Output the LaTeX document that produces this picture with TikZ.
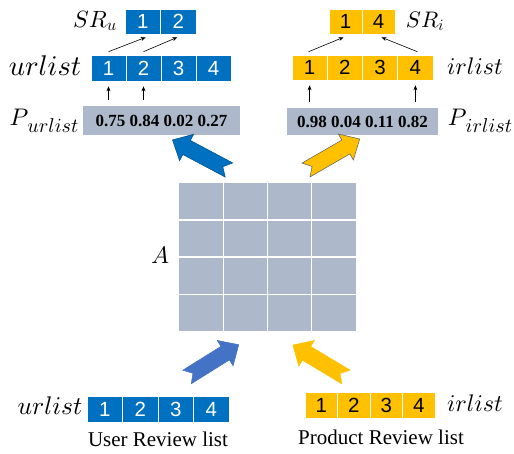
\documentclass[tikz,border=0pt]{standalone}
\usepackage{fontspec}
\setmainfont{Liberation Serif}
\setsansfont{Liberation Sans}
\DeclareFontFamily{OML}{cmm}{\skewchar\font127}
\DeclareFontShape{OML}{cmm}{m}{it}{<-> cmmi10}{}
\usetikzlibrary{arrows.meta,calc}
\definecolor{ublue}{HTML}{0070C0}
\definecolor{ublueb}{HTML}{4472C4}
\definecolor{uyel}{HTML}{FFC000}
\definecolor{gblue}{HTML}{ADB9CA}
\tikzset{
  cellbase/.style={draw=white, line width=0.6pt, inner sep=0pt, minimum height=26pt,
    font=\sffamily\fontsize{20.5}{21}\selectfont},
  bcell/.style={cellbase, fill=ublue, text=white, minimum width=35pt},
  ycell/.style={cellbase, fill=uyel, text=black, minimum width=35pt},
  pbox/.style={fill=gblue, inner sep=0pt, font=\bfseries\fontsize{17}{18}\selectfont},
  mlabel/.style={inner sep=0pt},
  thinarrow/.style={-{Stealth[length=5pt,width=4pt]}, line width=0.6pt, black},
}
\newcommand\blockarrow[4]{%
  \begin{scope}[shift={#2}, rotate=#3, x=1pt, y=1pt]
    \filldraw[#1] (0,8) -- (#4-16,8) -- (#4-16,15) -- (#4,0) -- (#4-16,-15) -- (#4-16,-8) -- (0,-8) -- (7,0) -- cycle;
  \end{scope}}
\newcommand\plabel[1]{{\fontsize{24}{28}\selectfont$P$}\kern-1pt\raisebox{-7pt}{\fontsize{20}{24}\selectfont$#1$}}
\begin{document}
\begin{tikzpicture}[x=1pt, y=-1pt]
\useasboundingbox (0,0) rectangle (514,453);
% ---------- top left ----------
\node[bcell, minimum width=35.5pt, minimum height=25pt] (su1) at (142.75,21.5) {1};
\node[bcell, minimum width=35.5pt, minimum height=25pt] (su2) at (178.25,21.5) {2};
\node[mlabel, font=\fontsize{23.5}{26}\selectfont] (sru) at (95,21) {$SR_u$};
\foreach \i/\x in {1/108.5,2/143.5,3/178.5,4/213.5}
  \node[bcell] (u\i) at (\x,68) {\i};
\node[mlabel, font=\fontsize{28.5}{32}\selectfont] (ul) at (45,66) {$urlist$};
\node[pbox, minimum width=157pt, minimum height=29pt] (pu) at (161.5,120.5) {0.75 0.84 0.02 0.27};
\node[mlabel] (pul) at (44,121) {\plabel{urlist}};
\draw[thinarrow] ([yshift=3pt]u1.north) -- ([yshift=-3pt,xshift=3pt]su1.south);
\draw[thinarrow] ([yshift=3pt]u2.north) -- ([yshift=-3pt,xshift=-1pt]su2.south);
\draw[thinarrow] ([yshift=6pt]pu.north -| u1) -- ([yshift=-5pt]u1.south);
\draw[thinarrow] ([yshift=6pt]pu.north -| u2) -- ([yshift=-5pt]u2.south);
% ---------- top right ----------
\node[ycell, minimum width=33pt, minimum height=25pt] (si1) at (345.5,21.5) {1};
\node[ycell, minimum width=33pt, minimum height=25pt] (si2) at (378.5,21.5) {4};
\node[mlabel, font=\fontsize{22.5}{26}\selectfont] (sri) at (425,21) {$SR_i$};
\foreach \i/\x in {1/309.6,2/344.9,3/380.1,4/415.4}
  \node[ycell, minimum width=35.25pt, minimum height=25pt] (i\i) at (\x,67.5) {\i};
\node[mlabel, font=\fontsize{24}{28}\selectfont] (il) at (475,66) {$irlist$};
\node[pbox, minimum width=151pt, minimum height=27pt] (pi) at (362.5,121.5) {0.98 0.04 0.11 0.82};
\node[mlabel] (pil) at (480,121) {\plabel{irlist}};
\draw[thinarrow] ([yshift=3pt,xshift=-1pt]i1.north) -- ([yshift=-3pt,xshift=-2pt]si1.south);
\draw[thinarrow] ([yshift=3pt,xshift=2pt]i4.north) -- ([yshift=-3pt,xshift=3pt]si2.south);
\draw[thinarrow] ([yshift=6pt]pi.north -| i1) -- ([yshift=-5pt]i1.south);
\draw[thinarrow] ([yshift=6pt]pi.north -| i4) -- ([yshift=-5pt]i4.south);
% ---------- matrix A ----------
\node[fill=gblue, minimum width=177pt, minimum height=148pt, inner sep=0pt] (A) at (267.5,257) {};
\foreach \f in {0.25,0.5,0.75} {
  \draw[white, line width=1.2pt] ($(A.north west)!\f!(A.north east)$) -- ($(A.south west)!\f!(A.south east)$);
  \draw[white, line width=1.2pt] ($(A.north west)!\f!(A.south west)$) -- ($(A.north east)!\f!(A.south east)$);
}
\node[mlabel, font=\fontsize{24}{26}\selectfont] (Al) at (160,255) {$A$};
% ---------- block arrows ----------
\blockarrow{fill=ublue, draw=ublue!70!black, line width=0.5pt}{(229,170)}{152}{64}
\blockarrow{fill=uyel, draw=gblue!50!black, line width=0.5pt}{(306,170)}{30}{62}
\blockarrow{fill=ublueb, draw=ublueb, line width=0.5pt}{(187,377)}{32}{61}
\blockarrow{fill=uyel, draw=uyel, line width=0.5pt}{(346,377)}{149}{62}
% ---------- bottom ----------
\foreach \i/\x in {1/104.75,2/140.25,3/175.75,4/211.25}
  \node[bcell, minimum width=35.5pt] (bu\i) at (\x,409) {\i};
\node[mlabel, font=\fontsize{25.5}{30}\selectfont] (bul) at (50,406) {$urlist$};
\node[font=\fontsize{21}{22}\selectfont, inner sep=0pt] (url) at (158,439) {User Review list};
\foreach \i/\x in {1/321.25,2/353.75,3/386.25,4/418.75}
  \node[ycell, minimum width=32.5pt] (bi\i) at (\x,405) {\i};
\node[mlabel, font=\fontsize{24}{28}\selectfont] (bil) at (475,403) {$irlist$};
\node[font=\fontsize{21}{22}\selectfont, inner sep=0pt] (prl) at (381,437) {Product Review list};
\end{tikzpicture}
\end{document}
